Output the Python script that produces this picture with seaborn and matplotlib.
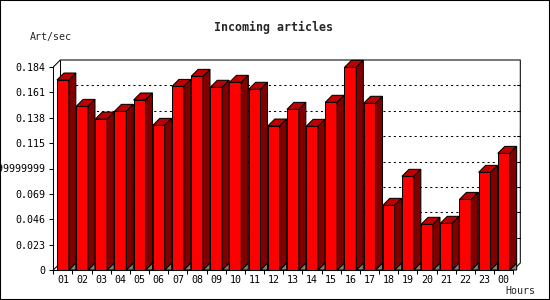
import matplotlib
matplotlib.use("Agg")
import matplotlib.pyplot as plt
import seaborn as sns
import numpy as np
from matplotlib.patches import Polygon, Rectangle
from matplotlib.lines import Line2D

hours = ['01', '02', '03', '04', '05', '06', '07', '08', '09', '10', '11', '12',
         '13', '14', '15', '16', '17', '18', '19', '20', '21', '22', '23', '00']
values = [0.1722, 0.1483, 0.1368, 0.1438, 0.1541, 0.1311, 0.1664, 0.1755,
          0.1656, 0.1701, 0.1638, 0.1305, 0.1456, 0.1302, 0.1520, 0.1837,
          0.1511, 0.0586, 0.0849, 0.0414, 0.0423, 0.0640, 0.0885, 0.1057]
ytick_vals = [0, 0.023, 0.046, 0.069, 0.092, 0.115, 0.138, 0.161, 0.184]
ytick_labels = ['0', '0.023', '0.046', '0.069', '0.09199999999', '0.115',
                '0.138', '0.161', '0.184']
title = 'Incoming articles'
ylabel = 'Art/sec'
xlabel = 'Hours'

sns.set_style('white')
plt.rcParams['font.family'] = ['DejaVu Sans Mono', 'DejaVu Sans']

W, H = 550, 300
fig = plt.figure(figsize=(W / 100, H / 100), dpi=100)
fig.patch.set_facecolor('white')
ax_l, ax_b, ax_w, ax_h = 53.3, 30.0, 460.0, 203.0
ax = fig.add_axes([ax_l / W, ax_b / H, ax_w / W, ax_h / H])
ax.set_facecolor('none')

ymax = ytick_vals[-1]
ncat = len(hours)
depth_px = 7.0
dx = depth_px / (ax_w / ncat)
dy = depth_px / (ax_h / ymax)

FRONT = '#FF0000'
TOP = '#C00000'
SIDE = '#800000'
LW = 0.75

# back plane and grid
xl, xr = -0.5, ncat - 0.5
for v in ytick_vals[1:-1]:
    ax.add_line(Line2D([xl + dx, xr + dx], [v + dy, v + dy], color='black',
                       lw=LW, dashes=(2, 3), zorder=0.5, clip_on=False))
    ax.add_line(Line2D([xr + dx - 3 / (ax_w / ncat), xr + dx], [v + dy, v + dy],
                       color='black', lw=LW, zorder=0.6, clip_on=False))
back = [(xl, ymax), (xl + dx, ymax + dy), (xr + dx, ymax + dy), (xr + dx, dy), (xr, 0)]
ax.add_line(Line2D([p[0] for p in back], [p[1] for p in back], color='black',
                   lw=LW, zorder=0.6, clip_on=False))
ax.add_line(Line2D([xl + dx, xl + dx], [dy, ymax + dy], color='black', lw=LW,
                   zorder=0.6, clip_on=False))
ax.add_line(Line2D([xl, xl + dx], [0, dy], color='black', lw=LW,
                   zorder=0.6, clip_on=False))

sns.barplot(x=hours, y=values, order=hours, color=FRONT, saturation=1,
            width=0.62, edgecolor='black', linewidth=LW, ax=ax, zorder=2)

for p in list(ax.patches):
    x0, w, h = p.get_x(), p.get_width(), p.get_height()
    top = Polygon([(x0, h), (x0 + w, h), (x0 + w + dx, h + dy), (x0 + dx, h + dy)],
                  closed=True, facecolor=TOP, edgecolor='black', lw=LW,
                  zorder=2, clip_on=False)
    side = Polygon([(x0 + w, 0), (x0 + w, h), (x0 + w + dx, h + dy), (x0 + w + dx, dy)],
                   closed=True, facecolor=SIDE, edgecolor='black', lw=LW,
                   zorder=2, clip_on=False)
    floor = Polygon([(x0 + w, 0), (x0 + w + dx, dy), (x0 + w + dx, 0)],
                    closed=True, facecolor='#808080', edgecolor='black', lw=LW,
                    zorder=1.9, clip_on=False)
    ax.add_patch(top)
    ax.add_patch(side)
    ax.add_patch(floor)
    p.set_clip_on(False)

ax.set_xlim(xl, xr)
ax.set_ylim(0, ymax)
ax.set_xlabel('')
ax.set_ylabel('')
for s in ['top', 'right']:
    ax.spines[s].set_visible(False)
for s in ['left', 'bottom']:
    ax.spines[s].set_color('black')
    ax.spines[s].set_linewidth(LW)
    ax.spines[s].set_zorder(3)

ax.set_yticks(ytick_vals)
ax.set_yticklabels(ytick_labels)
ax.tick_params(axis='y', length=3, width=LW, pad=3, labelsize=7.2,
               color='black', labelcolor='black', left=True)
ax.set_xticks(range(ncat))
ax.set_xticklabels(hours)
ax.set_xticks(np.arange(ncat + 1) - 0.5, minor=True)
ax.tick_params(axis='x', which='major', length=0, pad=3.6, labelsize=7.2,
               labelcolor='black')
ax.tick_params(axis='x', which='minor', length=3, width=LW, color='black',
               bottom=True)

fig.text(274 / W, 1 - 27 / H, title, ha='center', va='center',
         fontsize=8.4, fontweight='bold')
fig.text(30 / W, 1 - 37 / H, ylabel, ha='left', va='center', fontsize=7.2)
fig.text(505 / W, 1 - 291 / H, xlabel, ha='left', va='center', fontsize=7.2)

fig.patches.append(Rectangle((0, 0), 1, 1, transform=fig.transFigure,
                             fill=False, edgecolor='black', lw=1.5))

fig.savefig('out.png', dpi=100)
